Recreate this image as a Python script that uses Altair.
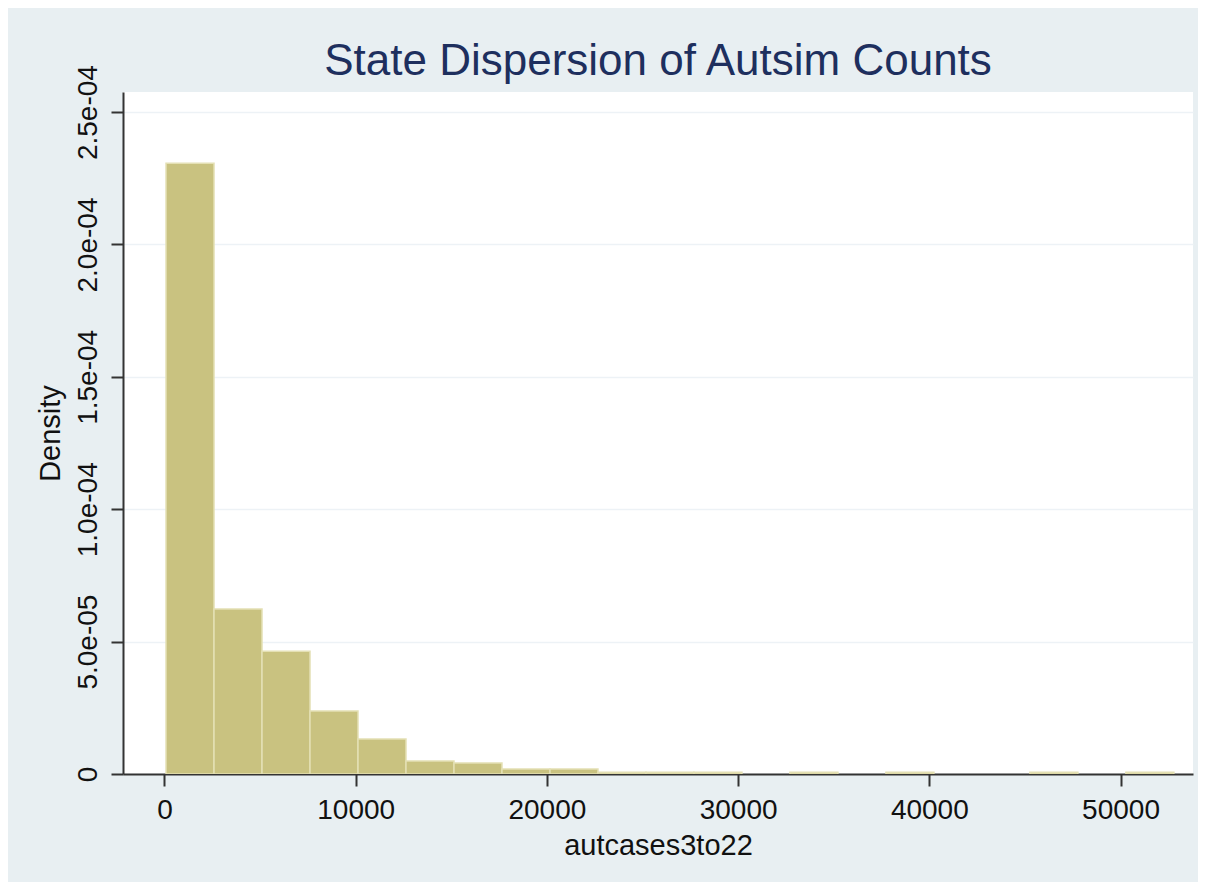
import altair as alt
import pandas as pd

# Histogram bins (autcases3to22) and densities
bin_lo = [80, 2590, 5100, 7610, 10120, 12630, 15140, 17650, 20160, 22670, 25180,
          27690, 30200, 32710, 35220, 37730, 40240, 42750, 45260, 47770, 50280]
bin_hi = [2590, 5100, 7610, 10120, 12630, 15140, 17650, 20160, 22670, 25180, 27690,
          30200, 32710, 35220, 37730, 40240, 42750, 45260, 47770, 50280, 52790]
density = [2.307e-4, 6.23e-5, 4.64e-5, 2.38e-5, 1.32e-5, 4.9e-6, 4.2e-6, 1.9e-6, 1.9e-6,
           6.6e-7, 6.6e-7, 6.6e-7, 0.0, 6.6e-7, 0.0, 6.6e-7, 0.0, 0.0, 6.6e-7, 0.0, 6.6e-7]

x_ticks = [0, 10000, 20000, 30000, 40000, 50000]
y_ticks = [0, 5e-5, 1e-4, 1.5e-4, 2e-4, 2.5e-4]

df = pd.DataFrame({"lo": bin_lo, "hi": bin_hi, "density": density})
df = df[df["density"] > 0]

FONT = "Liberation Sans"

chart = (
    alt.Chart(df)
    .mark_bar(fill="#c9c280", stroke="#e4e0b4", strokeWidth=1.5, clip=True)
    .encode(
        x=alt.X(
            "lo:Q",
            scale=alt.Scale(domain=[-2170, 53790], nice=False, zero=False),
            axis=alt.Axis(
                values=x_ticks,
                format="d",
                title="autcases3to22",
                grid=False,
                labelBaseline="top",
                labelPadding=10,
                titleBaseline="alphabetic",
                titleY=80,
                titleX=535,
                titleAlign="center",
            ),
        ),
        x2="hi:Q",
        y=alt.Y(
            "density:Q",
            scale=alt.Scale(domain=[0, 2.576e-4], nice=False),
            axis=alt.Axis(
                values=y_ticks,
                title="Density",
                labelExpr="datum.value == 0 ? '0' : replace(format(datum.value, '.1e'), 'e-', 'e-0')",
                labelAngle=270,
                labelAlign="center",
                labelBaseline="alphabetic",
                labelPadding=15,
                titleAngle=270,
                titleAlign="center",
                titleBaseline="alphabetic",
                titleX=-64,
                titleY=341,
                grid=True,
                gridColor="#edf2f6",
                gridWidth=1.5,
            ),
        ),
        y2=alt.datum(0),
    )
    .properties(
        width=1070,
        height=682,
        autosize=alt.AutoSizeParams(type="none"),
        padding={"left": 115, "top": 84, "right": 5, "bottom": 108},
        title=alt.TitleParams(
            "State Dispersion of Autsim Counts",
            fontSize=44,
            font=FONT,
            fontWeight="normal",
            color="#1e2f5e",
            anchor="middle",
            frame="group",
            dy=23,
        ),
        background="#e8eff2",
    )
    .configure_view(fill="white", stroke=None)
    .configure_axis(
        labelFont=FONT,
        titleFont=FONT,
        labelFontSize=28,
        titleFontSize=29,
        titleFontWeight="normal",
        labelColor="#111111",
        titleColor="#111111",
        domainColor="#333333",
        domainWidth=2,
        tickColor="#333333",
        tickWidth=2,
        tickSize=12,
    )
)

chart.save("out.html", embed_options={"renderer": "svg", "actions": False})
